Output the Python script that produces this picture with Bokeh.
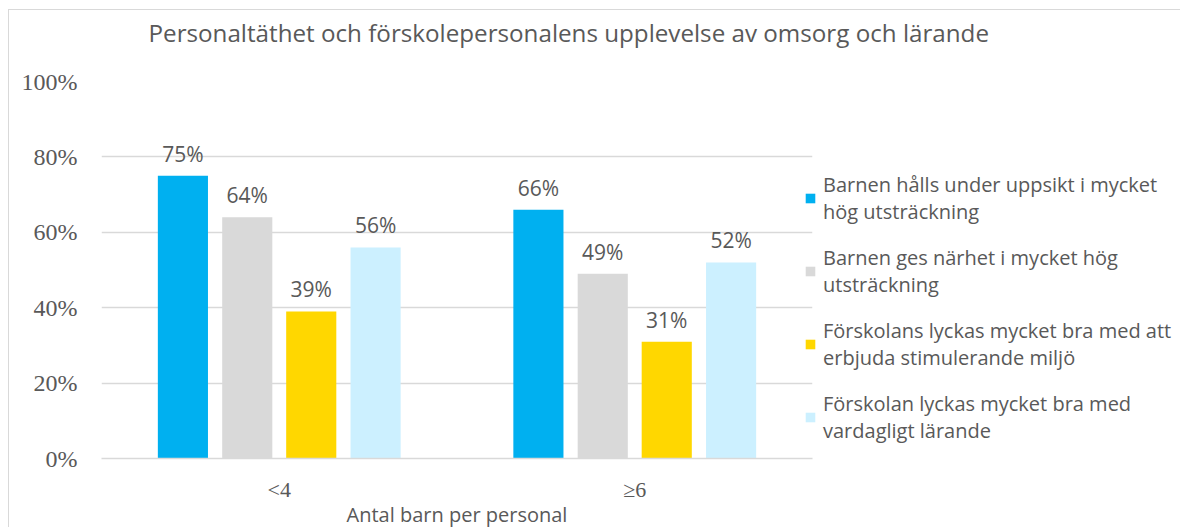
from bokeh.plotting import figure
from bokeh.models import (ColumnDataSource, FactorRange, LabelSet, Legend, LegendItem,
                          NumeralTickFormatter, Title)
from bokeh.core.properties import value
from bokeh.transform import dodge
from bokeh.embed import file_html
from bokeh.resources import INLINE

categories = ["<4", "≥6"]
series_names = [
    "Barnen hålls under uppsikt i mycket\nhög utsträckning",
    "Barnen ges närhet i mycket hög\nutsträckning",
    "Förskolans lyckas mycket bra med att\nerbjuda stimulerande miljö",
    "Förskolan lyckas mycket bra med\nvardagligt lärande",
]
uppsikt = [0.75, 0.66]
narhet = [0.64, 0.49]
stimulerande = [0.39, 0.31]
vardagligt = [0.56, 0.52]
colors = ["#00B0F0", "#D9D9D9", "#FFD700", "#CCF0FF"]

series = [uppsikt, narhet, stimulerande, vardagligt]
TEXT = "#595959"
SANS = "Open Sans"
SERIF = "Liberation Serif"

p = figure(x_range=FactorRange(*categories), y_range=(0, 1),
           frame_width=711, frame_height=377, output_backend="svg", toolbar_location=None,
           min_border_left=92, min_border_top=71, min_border_right=367,
           min_border_bottom=60)
p.outline_line_color = None
p.styles = {"margin-left": "8px", "margin-top": "9px",
            "border-top": "1px solid #d9d9d9", "border-left": "1px solid #d9d9d9"}

# spacer between frame and title (closest to frame), then the title itself
p.add_layout(Title(text=" ", text_font_size="28px", standoff=0), "above")
title = Title(text="Personaltäthet och förskolepersonalens upplevelse av omsorg och lärande",
              align="left", offset=47, text_font=SANS, text_font_size="24.2px",
              text_font_style="normal", text_color=TEXT, standoff=0)
p.add_layout(title, "above")

offsets = [-0.271, -0.090, 0.090, 0.271]
items = []
for i, (vals, name, col) in enumerate(zip(series, series_names, colors)):
    src = ColumnDataSource(dict(cat=categories, val=vals,
                                lab=[f"{round(v*100)}%" for v in vals]))
    r = p.vbar(x=dodge("cat", offsets[i], range=p.x_range), top="val", width=0.141,
               source=src, fill_color=col, line_color=None)
    items.append(LegendItem(label=name, renderers=[r]))
    p.add_layout(LabelSet(x=dodge("cat", offsets[i], range=p.x_range), y="val", text="lab",
                          source=src, text_align="center", text_baseline="alphabetic",
                          y_offset=14, text_font=value(SANS), text_font_size="21px",
                          text_color=TEXT))

legend = Legend(items=items, location=(-8, 14), orientation="vertical",
                label_text_font=SANS, label_text_font_size="20px", label_text_color=TEXT,
                glyph_width=12, glyph_height=12, label_standoff=7, spacing=19,
                padding=0, margin=0, border_line_color=None, background_fill_alpha=0)
p.add_layout(legend, "right")

p.yaxis.ticker = [0, 0.2, 0.4, 0.6, 0.8, 1.0]
p.yaxis.formatter = NumeralTickFormatter(format="0%")
p.yaxis.axis_line_color = None
p.yaxis.major_tick_line_color = None
p.yaxis.minor_tick_line_color = None
p.yaxis.major_tick_out = 0
p.yaxis.major_label_standoff = 24
p.yaxis.major_label_text_font = SERIF
p.yaxis.major_label_text_font_size = "24px"
p.yaxis.major_label_text_color = TEXT

p.xaxis.axis_line_color = "#D9D9D9"
p.xaxis.axis_line_width = 1.3
p.xaxis.major_tick_line_color = None
p.xaxis.minor_tick_line_color = None
p.xaxis.major_tick_out = 0
p.xaxis.major_label_standoff = 18
p.xaxis.major_label_text_font = SERIF
p.xaxis.major_label_text_font_size = "22px"
p.xaxis.major_label_text_color = TEXT
p.xaxis.axis_label = "Antal barn per personal"
p.xaxis.axis_label_text_font = SANS
p.xaxis.axis_label_text_font_size = "20px"
p.xaxis.axis_label_text_font_style = "normal"
p.xaxis.axis_label_text_color = TEXT
p.xaxis.axis_label_standoff = -4

p.xgrid.grid_line_color = None
p.ygrid.grid_line_color = "#D9D9D9"
p.ygrid.grid_line_width = 1.3

open("out.html", "w").write(file_html(p, INLINE))
